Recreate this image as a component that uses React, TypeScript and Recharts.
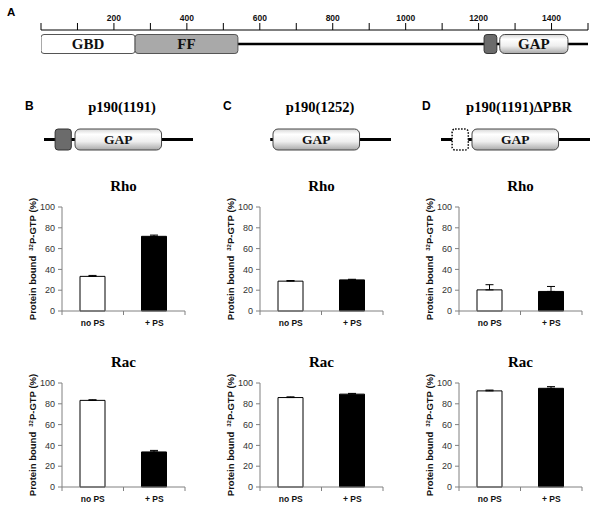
import React from "react";
import { Bar, BarChart, Cell, ErrorBar, LabelList, XAxis, YAxis } from "recharts";

// Panel A: full-length protein map
const rulerTicks = [0, 100, 200, 300, 400, 500, 600, 700, 800, 900, 1000, 1100, 1200, 1300, 1400, 1500];
const rulerLabels = [200, 400, 600, 800, 1000, 1200, 1400];
const domainNames = ["GBD", "FF", "PBR", "GAP"];
const domainStart = [0, 258, 1215, 1258];
const domainEnd = [258, 540, 1250, 1445];
const proteinEnd = 1500;
const labelledDomains = ["GBD", "FF", "GAP"];

// Panels B-D: constructs
const panelLetters = ["B", "C", "D"];
const constructNames = ["p190(1191)", "p190(1252)", "p190(1191)\u0394PBR"];
const constructStart = [1191, 1252, 1191];
const constructPbr = ["present", "absent", "deleted"];
const constructEnd = 1513;

// GTP-binding assays, % of protein bound [no PS, + PS]
const conditions = ["no PS", "+ PS"];
const rhoValues = [
  [33.3, 71.8],
  [28.7, 29.9],
  [20.3, 18.8],
];
const rhoErrors = [
  [0.9, 1.2],
  [0.6, 0.6],
  [5.0, 4.8],
];
const racValues = [
  [83.3, 33.7],
  [86.0, 89.3],
  [92.4, 94.9],
];
const racErrors = [
  [0.6, 1.5],
  [0.7, 0.7],
  [0.8, 1.6],
];
const percentTicks = [0, 20, 40, 60, 80, 100];

const SANS = "'Liberation Sans', Arial, sans-serif";
const SERIF = "'Liberation Serif', 'Times New Roman', serif";
const AXIS = "#808080";
const COL_LEFT = [0, 198, 397];
const LABEL_GAP = 9;

type MapRow = { kind: string; track: number; span: number[] };

const proteinRows: MapRow[] = [
  { kind: "backbone", track: 0, span: [0, proteinEnd] },
  ...domainNames.map((name, i) => ({ kind: name, track: 0, span: [domainStart[i], domainEnd[i]] })),
];

function constructRows(i: number): MapRow[] {
  const rows: MapRow[] = [{ kind: "backbone", track: 0, span: [constructStart[i], constructEnd] }];
  if (constructPbr[i] === "present") rows.push({ kind: "PBR", track: 0, span: [domainStart[2], domainEnd[2]] });
  if (constructPbr[i] === "deleted") rows.push({ kind: "PBRdel", track: 0, span: [domainStart[2], domainEnd[2]] });
  rows.push({ kind: "GAP", track: 0, span: [domainStart[3], domainEnd[3]] });
  return rows;
}

const BOX_STYLE: Record<string, { fill: string; stroke: string; r: number; w: number; dash?: string }> = {
  GBD: { fill: "#ffffff", stroke: "#555", r: 3, w: 1 },
  FF: { fill: "#a9a9a9", stroke: "#555", r: 3, w: 1 },
  PBR: { fill: "#6b6b6b", stroke: "#333", r: 3, w: 1 },
  PBRdel: { fill: "#ffffff", stroke: "#000", r: 3, w: 1.5, dash: "1.5 1.5" },
  GAP: { fill: "url(#gapShade)", stroke: "#444", r: 5, w: 1 },
};

function mapShape(lineWidth: number) {
  return (p: any) => {
    const kind = p.payload?.kind ?? p.kind;
    const { x, y, width, height } = p;
    if (kind === "backbone") {
      return <rect x={x} y={y + height / 2 - lineWidth / 2} width={width} height={lineWidth} fill="#000" />;
    }
    const s = BOX_STYLE[kind];
    return (
      <rect
        x={x}
        y={y}
        width={width}
        height={height}
        rx={s.r}
        ry={s.r}
        fill={s.fill}
        stroke={s.stroke}
        strokeWidth={s.w}
        strokeDasharray={s.dash}
      />
    );
  };
}

function ProteinMap() {
  return (
    <BarChart
      width={600}
      height={60}
      layout="vertical"
      data={proteinRows}
      barSize={19}
      margin={{ top: 0, right: 12, bottom: 3, left: 41 }}
    >
      <XAxis
        type="number"
        orientation="top"
        domain={[0, proteinEnd]}
        ticks={rulerTicks}
        interval={0}
        allowDataOverflow
        height={30}
        tickSize={7}
        tickMargin={2}
        tickFormatter={(v: number) => (rulerLabels.includes(v) ? String(v) : "")}
        axisLine={{ stroke: "#000" }}
        tickLine={{ stroke: "#000" }}
        tick={{ fontSize: 8.5, fontWeight: 700, fill: "#111", fontFamily: SANS }}
      />
      <YAxis type="number" dataKey="track" domain={[-1, 1]} allowDataOverflow hide />
      <Bar dataKey="span" shape={mapShape(2.5)} isAnimationActive={false}>
        <LabelList
          dataKey="kind"
          position="center"
          formatter={(v: string) => (labelledDomains.includes(v) ? v : "")}
          fill="#111"
          fontSize={15}
          fontWeight={700}
          fontFamily={SERIF}
        />
      </Bar>
    </BarChart>
  );
}

function ConstructMap({ i }: { i: number }) {
  return (
    <BarChart
      width={200}
      height={30}
      layout="vertical"
      data={constructRows(i)}
      barSize={21}
      margin={{ top: 0, right: 7, bottom: 0, left: 44 }}
    >
      <XAxis type="number" domain={[1191, constructEnd]} allowDataOverflow hide />
      <YAxis type="number" dataKey="track" domain={[-1, 1]} allowDataOverflow hide />
      <Bar dataKey="span" shape={mapShape(3)} isAnimationActive={false}>
        <LabelList
          dataKey="kind"
          position="center"
          formatter={(v: string) => (v === "GAP" ? v : "")}
          fill="#111"
          fontSize={13.5}
          fontWeight={700}
          fontFamily={SERIF}
        />
      </Bar>
    </BarChart>
  );
}

function yLabel(props: any) {
  const vb = props.viewBox || {};
  const x = vb.x + vb.width - 26;
  const y = vb.y + vb.height / 2;
  return (
    <text
      x={x}
      y={y}
      transform={`rotate(-90 ${x} ${y})`}
      textAnchor="middle"
      fontFamily={SANS}
      fontWeight={700}
      fontSize={9.5}
      fill="#111"
    >
      <tspan>Protein bound</tspan>
      <tspan dx={5} dy={-3.5} fontSize={6}>
        32
      </tspan>
      <tspan dy={3.5}>P-GTP (%)</tspan>
    </text>
  );
}

// category label plus tick marks on the band edges
function conditionTick(props: any) {
  const { x, y, payload, index, visibleTicksCount, width } = props;
  const band = Number(width) / Number(visibleTicksCount);
  const axisY = y - LABEL_GAP;
  const edges = [x - band / 2];
  if (index === visibleTicksCount - 1) edges.push(x + band / 2);
  return (
    <g>
      {Number.isFinite(band) &&
        edges.map((ex) => <line key={ex} x1={ex} x2={ex} y1={axisY} y2={axisY + 4} stroke={AXIS} strokeWidth={1} />)}
      <text
        x={x}
        y={y}
        dy="0.71em"
        textAnchor="middle"
        fontSize={8.5}
        fontWeight={700}
        fill="#111"
        fontFamily={SANS}
      >
        {payload.value}
      </text>
    </g>
  );
}

function BindingChart({
  col,
  top,
  title,
  values,
  errors,
}: {
  col: number;
  top: number;
  title: string;
  values: number[];
  errors: number[];
}) {
  const data = conditions.map((c, k) => ({ condition: c, value: values[k], err: [0, errors[k]] }));
  return (
    <div style={{ position: "absolute", left: COL_LEFT[col], top, width: 200, height: 164 }}>
      <div
        style={{
          position: "absolute",
          left: 62,
          width: 123,
          top: 2,
          textAlign: "center",
          fontFamily: SERIF,
          fontWeight: 700,
          fontSize: 15,
          lineHeight: "15px",
        }}
      >
        {title}
      </div>
      <BarChart width={200} height={164} data={data} barSize={25} margin={{ top: 30, right: 15, bottom: 5, left: 0 }}>
        <XAxis
          dataKey="condition"
          type="category"
          height={25}
          interval={0}
          axisLine={{ stroke: AXIS }}
          tickLine={false}
          tickSize={0}
          tickMargin={LABEL_GAP}
          tick={conditionTick}
        />
        <YAxis
          type="number"
          domain={[0, 100]}
          ticks={percentTicks}
          interval={0}
          width={62}
          tickSize={4}
          tickMargin={3}
          axisLine={{ stroke: AXIS }}
          tickLine={{ stroke: AXIS }}
          tick={{ fontSize: 9, fill: "#333", fontFamily: SANS }}
          label={yLabel}
        />
        <Bar dataKey="value" stroke="#000" strokeWidth={1} isAnimationActive={false}>
          {data.map((d, k) => (
            <Cell key={d.condition} fill={k === 0 ? "#ffffff" : "#000000"} />
          ))}
          <ErrorBar dataKey="err" width={4} stroke="#000" strokeWidth={1} isAnimationActive={false} />
        </Bar>
      </BarChart>
    </div>
  );
}

const letterStyle: React.CSSProperties = {
  position: "absolute",
  fontFamily: SANS,
  fontWeight: 700,
  fontSize: 12,
  lineHeight: "12px",
};

export default function App() {
  return (
    <div
      style={{
        position: "absolute",
        left: 0,
        top: 0,
        width: 600,
        height: 508,
        background: "#fff",
        overflow: "hidden",
        fontFamily: SANS,
      }}
    >
      <svg width={0} height={0} style={{ position: "absolute" }}>
        <defs>
          <linearGradient id="gapShade" x1="0" y1="0" x2="0" y2="1">
            <stop offset="0%" stopColor="#d6d6d6" />
            <stop offset="25%" stopColor="#ffffff" />
            <stop offset="60%" stopColor="#eeeeee" />
            <stop offset="100%" stopColor="#a8a8a8" />
          </linearGradient>
        </defs>
      </svg>

      <div style={{ ...letterStyle, left: 7, top: 6, fontSize: 11.5 }}>A</div>
      <div style={{ position: "absolute", left: 0, top: 0 }}>
        <ProteinMap />
      </div>

      {panelLetters.map((letter, i) => (
        <React.Fragment key={letter}>
          <div style={{ ...letterStyle, left: COL_LEFT[i] + 25, top: 100 }}>{letter}</div>
          <div
            style={{
              position: "absolute",
              left: COL_LEFT[i] + 44,
              width: 156,
              top: 100,
              textAlign: "center",
              fontFamily: SERIF,
              fontWeight: 700,
              fontSize: 14.5,
              lineHeight: "15px",
            }}
          >
            {constructNames[i]}
          </div>
          <div style={{ position: "absolute", left: COL_LEFT[i], top: 124 }}>
            <ConstructMap i={i} />
          </div>
          <BindingChart col={i} top={177} title="Rho" values={rhoValues[i]} errors={rhoErrors[i]} />
          <BindingChart col={i} top={353} title="Rac" values={racValues[i]} errors={racErrors[i]} />
        </React.Fragment>
      ))}
    </div>
  );
}
